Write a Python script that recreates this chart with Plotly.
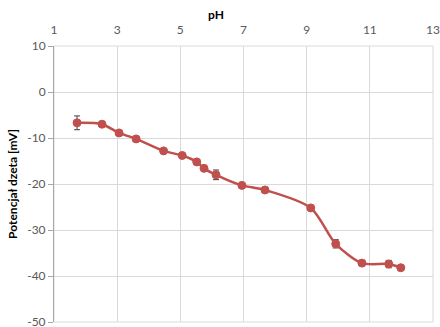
import plotly.graph_objects as go

# Zeta potential vs pH
ph = [1.73, 2.52, 3.06, 3.60, 4.47, 5.06, 5.52, 5.75, 6.13, 6.95, 7.68, 9.13, 9.92, 10.75, 11.60, 11.98]
zeta = [-6.7, -7.0, -8.9, -10.2, -12.8, -13.8, -15.2, -16.6, -18.0, -20.3, -21.3, -25.2, -33.0, -37.2, -37.4, -38.2]
zeta_err = [1.5, 0.4, 0.4, 0.4, 0.4, 0.4, 0.4, 0.4, 1.05, 0.4, 0.4, 0.4, 0.9, 0.5, 0.8, 0.4]

x_ticks = [1, 3, 5, 7, 9, 11, 13]
y_ticks = [10, 0, -10, -20, -30, -40, -50]

red = "#c0504d"
grid = "#d9d9d9"
font = "Lato"
W, H = 440, 327
ML, MR, MT, MB = 54, 7, 46, 5

fig = go.Figure()
fig.add_trace(go.Scatter(
    x=ph, y=zeta,
    mode="lines+markers",
    line=dict(color=red, width=2.5, shape="spline", smoothing=0.8),
    marker=dict(color=red, size=8, line=dict(color=red, width=1)),
    error_y=dict(type="data", array=zeta_err, visible=True,
                 color="#404040", thickness=1, width=3),
    showlegend=False,
))

# plot-area frame in grid colour (edge gridlines)
fig.add_shape(type="rect", xref="paper", yref="paper", x0=0, y0=0, x1=1, y1=1,
              line=dict(color=grid, width=1), layer="below")

fig.update_layout(
    width=W, height=H,
    margin=dict(l=ML, r=MR, t=MT, b=MB, autoexpand=False),
    paper_bgcolor="white", plot_bgcolor="white",
    font=dict(family=font, size=12, color="#595959"),
    xaxis=dict(
        side="top", range=[1, 13], tickvals=x_ticks,
        ticktext=[str(v) for v in x_ticks],
        showgrid=True, gridcolor=grid, gridwidth=1,
        zeroline=False, showline=False, ticks="",
        ticklabelstandoff=9, automargin=False,
        tickfont=dict(family=font, size=12, color="#595959"),
    ),
    yaxis=dict(
        range=[-50, 10], tickvals=y_ticks,
        ticktext=[str(v) for v in y_ticks],
        showgrid=True, gridcolor=grid, gridwidth=1,
        zeroline=False, showline=True, linecolor="#a6a6a6", linewidth=1,
        ticks="outside", ticklen=5, tickcolor="#a6a6a6",
        ticklabeloverflow="allow", automargin=False,
        tickfont=dict(family=font, size=12, color="#595959"),
        title=dict(text="<b>Potencjał dzeta [mV]</b>",
                   font=dict(family=font, size=12, color="#000000"),
                   standoff=7),
    ),
    annotations=[dict(
        text="<b>pH</b>", xref="paper", yref="paper",
        x=(216 - ML) / (W - ML - MR), y=(H - MB - 15) / (H - MT - MB),
        xanchor="center", yanchor="middle", showarrow=False,
        font=dict(family=font, size=12, color="#000000"),
    )],
)

fig.write_html("out.html")
